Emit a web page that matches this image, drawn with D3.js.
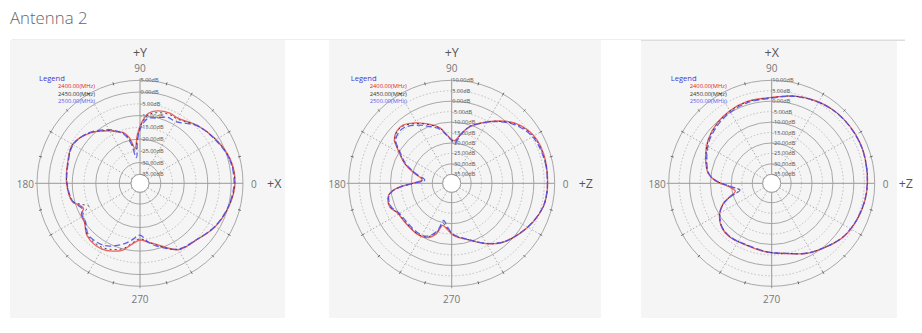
<!DOCTYPE html>
<html><head><meta charset="utf-8">
<script src="https://cdn.jsdelivr.net/npm/d3@7"></script>
<style>body{margin:0;background:#fff;} svg{display:block;}</style>
</head><body>
<svg id="c" width="922" height="333"></svg>
<script>
// ---------- data ----------
const title = "Antenna 2";
const seriesNames = ["2400.00(MHz)", "2450.00(MHz)", "2500.00(MHz)"];
const panelAxisTop = ["+Y", "+Y", "+X"];
const panelAxisRight = ["+X", "+Z", "+Z"];
const angleLabels = ["0", "90", "180", "270"];
const p1Rings = [5, 0, -5, -10, -15, -20, -25, -30, -35];
const p23Rings = [10, 5, 0, -5, -10, -15, -20, -25, -30, -35];

// Panel 1 (degrees counter-clockwise from 0, values in dB)
const p1Angles = [0, 15, 30, 45, 60, 67, 77, 83, 88, 93, 98, 103, 108, 115, 120, 135, 150, 165, 180, 195, 200, 204, 208, 215, 225, 240, 255, 262, 270, 278, 285, 300, 315, 330, 345];
const p1Red   = [1.6, 0.9, -1.5, -4.1, -6.8, -6.4, -7.2, -8.8, -12.6, -18, -23.8, -19, -16.2, -14.5, -13.0, -8.6, -5.7, -6.9, -7.6, -9.0, -11.5, -12.5, -10.5, -10.0, -7.1, -6.5, -9.3, -12.5, -14.7, -13.5, -11.9, -6.2, -4.8, -1.9, 0.2];
const p1Black = [1.5, 0.8, -1.6, -4.2, -7.2, -7.0, -8.0, -9.5, -13.0, -19, -25.0, -20, -16.5, -14.4, -12.9, -8.5, -5.8, -7.0, -7.7, -9.3, -12.5, -15.0, -11.5, -10.2, -7.4, -7.2, -10.0, -13.0, -15.2, -13.6, -11.6, -6.3, -4.8, -2.0, 0.1];
const p1Blue  = [1.2, 0.6, -1.8, -4.3, -8.5, -8.4, -10.3, -11.0, -14.0, -20, -27.8, -21, -17.0, -14.1, -12.5, -8.3, -6.0, -7.1, -7.8, -9.2, -11.0, -12.0, -10.8, -10.5, -7.8, -8.3, -12.1, -14.5, -16.8, -13.5, -11.2, -6.5, -4.9, -2.1, 0.0];

// Panel 2
const p2Angles = [0, 10, 18, 27, 35, 44, 52, 58, 72, 79, 86, 91, 96, 102, 110, 120, 130, 137, 143, 148, 157, 165, 173, 180, 184, 188, 192, 201, 209, 219, 235, 245, 253, 258, 264, 272, 288, 300, 311, 324, 335, 346, 354];
const p2Red   = [6.6, 6.8, 6.9, 6.5, 5.2, 2.3, -1.5, -4.4, -10.6, -15.0, -18.8, -18.0, -15.8, -12.2, -9.3, -5.9, -3.0, -3.1, -5.0, -9.0, -14.8, -20.8, -25.0, -20.6, -14.4, -10.1, -8.2, -7.6, -9.8, -10.2, -9.9, -10.6, -14.0, -18.7, -17.3, -14.4, -10.6, -5.9, -1.9, 1.3, 3.9, 6.0, 6.5];
const p2Black = [6.6, 6.7, 6.6, 6.2, 4.8, 1.9, -1.7, -4.5, -10.6, -15.2, -19.3, -18.2, -15.9, -12.4, -9.6, -6.3, -3.4, -3.3, -5.2, -9.3, -15.0, -21.2, -25.6, -20.8, -14.6, -10.2, -8.3, -7.8, -9.9, -10.4, -10.1, -11.0, -14.8, -19.6, -17.8, -14.6, -10.7, -6.0, -2.0, 1.2, 3.8, 6.0, 6.5];
const p2Blue  = [6.5, 6.6, 6.3, 5.8, 4.3, 1.5, -1.9, -4.6, -10.7, -15.4, -20.2, -18.4, -16.2, -12.9, -10.5, -7.2, -4.3, -4.2, -5.8, -9.8, -15.4, -21.6, -26.3, -21.0, -14.8, -10.4, -8.5, -8.2, -10.3, -10.9, -10.6, -11.4, -15.4, -21.1, -18.5, -14.8, -10.8, -6.1, -2.0, 1.2, 3.8, 5.9, 6.4];

// Panel 3
const p3Angles = [0, 10, 22, 36, 50, 63, 76, 90, 107, 120, 132, 146, 158, 171, 177, 185, 192, 198, 203, 210, 221, 232, 248, 266, 282, 297, 311, 323, 337, 350];
const p3Red   = [6.5, 6.8, 7.2, 7.0, 6.5, 5.3, 3.8, 1.8, 1.6, 0.8, -0.4, -2.5, -5.2, -8.5, -12.0, -19.0, -21.5, -18.1, -14.0, -10.5, -7.5, -6.7, -7.3, -6.3, -4.9, -1.7, 0.9, 3.5, 5.1, 6.1];
const p3Black = [6.5, 6.8, 7.1, 7.0, 6.4, 5.2, 3.7, 1.7, 1.4, 0.6, -0.6, -2.7, -5.4, -8.6, -12.3, -19.8, -23.5, -18.4, -14.2, -10.6, -7.6, -6.8, -7.4, -6.4, -5.0, -1.8, 0.8, 3.4, 5.0, 6.1];
const p3Blue  = [6.4, 6.7, 7.1, 6.9, 6.4, 5.2, 3.6, 1.5, 1.0, 0.0, -1.2, -3.2, -5.8, -8.8, -12.4, -20.0, -23.8, -18.6, -14.3, -10.7, -7.7, -6.9, -7.5, -6.5, -5.0, -1.8, 0.8, 3.4, 5.0, 6.0];

// ---------- layout ----------
const svg = d3.select("#c");
const R = 103, R0 = 9;
const panels = [
  {cx: 140, cy: 183.3, bg: [10, 40, 275, 278], rings: p1Rings, angles: p1Angles, series: [p1Red, p1Black, p1Blue]},
  {cx: 451.7, cy: 183.3, bg: [329, 40, 272, 278], rings: p23Rings, angles: p2Angles, series: [p2Red, p2Black, p2Blue]},
  {cx: 771.7, cy: 183.3, bg: [641, 41, 256, 277], rings: p23Rings, angles: p3Angles, series: [p3Red, p3Black, p3Blue]}
];
const seriesStyle = [
  {stroke: "#ec4a4a", width: 1.4, dash: null, op: 0.85},
  {stroke: "#222", width: 0.9, dash: "2,3", op: 0.9},
  {stroke: "#5050ee", width: 1.3, dash: "6,3", op: 0.9}
];
const legendColors = ["#e02424", "#333", "#5a5aee"];
const font = "'Open Sans', 'Noto Sans', sans-serif";

svg.append("text").attr("x", 10).attr("y", 24).text(title)
  .attr("font-family", font).attr("font-size", 16.8).attr("font-weight", 300).attr("fill", "#666");
svg.append("line").attr("x1", 12).attr("x2", 905).attr("y1", 39.5).attr("y2", 39.5)
  .attr("stroke", "#eee").attr("stroke-width", 1);

panels.forEach((p, i) => {
  const g0 = svg.append("g");
  g0.append("rect").attr("x", p.bg[0]).attr("y", p.bg[1]).attr("width", p.bg[2]).attr("height", p.bg[3]).attr("fill", "#f5f5f5");
  if (i === 2) g0.append("line").attr("x1", p.bg[0]).attr("x2", p.bg[0] + p.bg[2] + 8).attr("y1", 40.5).attr("y2", 40.5).attr("stroke", "#ddd");

  const g = svg.append("g").attr("transform", `translate(${p.cx},${p.cy})`);
  const r = d3.scaleLinear().domain([d3.min(p.rings), d3.max(p.rings)]).range([R0, R]);
  const top = d3.max(p.rings), bot = d3.min(p.rings);

  // spokes every 30 deg (dotted)
  d3.range(0, 360, 30).filter(a => a % 90 !== 0).forEach(a => {
    const t = a * Math.PI / 180;
    g.append("line").attr("x1", R0 * Math.cos(t)).attr("y1", -R0 * Math.sin(t))
      .attr("x2", R * Math.cos(t)).attr("y2", -R * Math.sin(t))
      .attr("stroke", "#9a9a9a").attr("stroke-width", 0.8).attr("stroke-dasharray", "1.5,2");
  });
  // rings
  p.rings.forEach(v => {
    const solid = (v === top || v === bot || v % 10 === 0);
    g.append("circle").attr("r", r(v)).attr("fill", "none")
      .attr("stroke", solid ? "#a8a8a8" : "#b0b0b0")
      .attr("stroke-width", solid ? 1 : 0.8)
      .attr("stroke-dasharray", solid ? null : "1.5,2");
  });
  // main axes
  g.append("line").attr("x1", -R - 2).attr("x2", R).attr("y1", 0).attr("y2", 0).attr("stroke", "#999").attr("stroke-width", 1);
  g.append("line").attr("y1", -R - 2).attr("y2", R + 2).attr("x1", 0).attr("x2", 0).attr("stroke", "#999").attr("stroke-width", 1);
  // tick dots on outer ring
  d3.range(0, 360, 15).filter(a => a % 90 !== 0).forEach(a => {
    const t = a * Math.PI / 180;
    g.append("line").attr("x1", (R - 1.5) * Math.cos(t)).attr("y1", -(R - 1.5) * Math.sin(t))
      .attr("x2", (R + 1.5) * Math.cos(t)).attr("y2", -(R + 1.5) * Math.sin(t))
      .attr("stroke", "#666").attr("stroke-width", 1);
  });
  // center hole
  g.append("circle").attr("r", R0).attr("fill", "#fff").attr("stroke", "#a0a0a0");

  // ring labels
  p.rings.forEach(v => {
    g.append("text").attr("x", 0.5).attr("y", -r(v) + 2).text(v.toFixed(2) + "dB")
      .attr("font-family", font).attr("font-size", 5.6).attr("fill", "#555");
  });

  // data curves
  const line = d3.lineRadial().curve(d3.curveCatmullRomClosed.alpha(0.5))
    .angle(d => (90 - d[0]) * Math.PI / 180).radius(d => r(d[1]));
  p.series.forEach((vals, k) => {
    const pts = p.angles.map((a, j) => [a, vals[j]]);
    const st = seriesStyle[k];
    g.append("path").attr("d", line(pts)).attr("fill", "none")
      .attr("stroke", st.stroke).attr("stroke-width", st.width).attr("opacity", st.op)
      .attr("stroke-dasharray", st.dash);
  });

  // angle labels
  const lab = (x, y, t, anchor, size, col) => g.append("text").attr("x", x).attr("y", y).text(t)
    .attr("text-anchor", anchor).attr("dominant-baseline", "central")
    .attr("font-family", font).attr("font-size", size).attr("fill", col);
  lab(R + 8, 0.5, angleLabels[0], "start", 10, "#777");
  lab(0, -R - 12, angleLabels[1], "middle", 10, "#777");
  lab(-R - 3, 0.5, angleLabels[2], "end", 10, "#777");
  lab(0, R + 13, angleLabels[3], "middle", 10, "#777");
  lab(R + 24, 0, panelAxisRight[i], "start", 12.5, "#555");
  lab(0, -R - 28, panelAxisTop[i], "middle", 12.5, "#555");

  // legend
  const lg = svg.append("g").attr("transform", `translate(${p.cx - 101},${p.cy})`);
  lg.append("text").attr("x", 0).attr("y", -102.5).text("Legend")
    .attr("font-family", font).attr("font-size", 7.6).attr("fill", "#3a3ad0");
  seriesNames.forEach((s, k) => {
    lg.append("text").attr("x", 19).attr("y", -95 + k * 7.5).text(s)
      .attr("font-family", font).attr("font-size", 5.8).attr("fill", legendColors[k]);
  });
});
</script>
</body></html>
